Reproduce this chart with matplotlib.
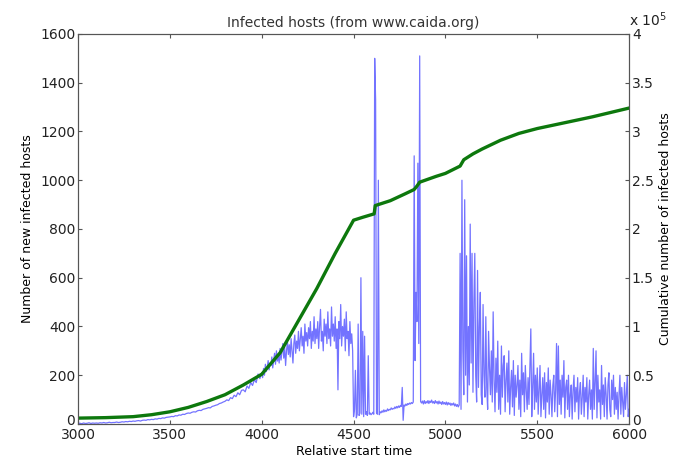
import matplotlib
matplotlib.use("Agg")
import matplotlib.pyplot as plt
import matplotlib.transforms as mtransforms
import numpy as np
from matplotlib.ticker import FuncFormatter

plt.rcParams['font.family'] = ['DejaVu Sans']

# new infected hosts: every 10 units up to 4000, then every 5 units up to 6000
t_new = np.concatenate([np.arange(3000, 4000, 10), np.arange(4000, 6001, 5)])
new_hosts = [
    2, 3, 1, 4, 2, 3, 5, 2, 4, 3,
    4, 3, 5, 4, 6, 4, 5, 7, 5, 6,
    6, 8, 6, 7, 9, 8, 10, 9, 11, 10,
    12, 11, 13, 14, 12, 15, 16, 15, 18, 17,
    19, 18, 21, 20, 23, 22, 25, 24, 27, 28,
    29, 31, 30, 34, 33, 37, 36, 40, 39, 43,
    45, 44, 48, 50, 49, 54, 56, 55, 60, 62,
    64, 67, 66, 72, 74, 77, 79, 84, 86, 90,
    93, 99, 96, 108, 104, 118, 112, 128, 120, 138,
    140, 132, 156, 146, 170, 158, 182, 170, 205, 186,
    # 4000, step 5
    210, 190, 228, 200, 245, 215, 232, 260, 222, 250,
    240, 275, 230, 262, 290, 245, 300, 258, 280, 250,
    310, 262, 295, 330, 270, 315, 240, 300, 340, 285,
    325, 275, 350, 300, 250, 330, 365, 290, 340, 310,
    380, 300, 350, 395, 320, 360, 290, 410, 340, 375,
    320, 395, 350, 420, 310, 380, 340, 440, 330, 390,
    350, 420, 310, 400, 470, 340, 380, 300, 430, 360,
    410, 330, 460, 350, 390, 320, 480, 360, 410, 340,
    440, 310, 390, 140, 420, 350, 490, 320, 400, 360,
    430, 300, 460, 350, 380, 280, 420, 330, 370, 300,
    # 4500
    30, 60, 220, 25, 40, 410, 35, 45, 600, 40,
    380, 30, 360, 40, 50, 35, 280, 40, 45, 38,
    42, 48, 40, 1500, 1330, 45, 40, 1000, 38, 50,
    46, 54, 48, 58, 50, 56, 52, 62, 55, 60,
    58, 66, 60, 64, 62, 70, 64, 72, 66, 74,
    68, 76, 72, 150, 15, 78, 74, 82, 76, 84,
    80, 86, 82, 88, 84, 90, 1100, 260, 540, 420,
    1070, 330, 1510, 92, 86, 94, 82, 96, 84, 92,
    86, 96, 84, 94, 88, 98, 86, 92, 84, 96,
    86, 92, 82, 94, 84, 90, 80, 92, 82, 88,
    # 5000
    80, 90, 78, 88, 80, 86, 76, 84, 78, 86,
    74, 82, 72, 80, 70, 78, 700, 60, 1000, 300,
    120, 920, 200, 690, 90, 400, 160, 820, 250, 700,
    130, 500, 700, 200, 90, 630, 150, 400, 540, 120,
    80, 490, 200, 110, 440, 150, 60, 380, 230, 120,
    300, 90, 460, 180, 50, 270, 130, 340, 60, 200,
    40, 320, 110, 240, 280, 50, 180, 250, 90, 300,
    40, 150, 220, 70, 260, 35, 200, 110, 160, 240,
    60, 180, 30, 290, 120, 210, 50, 240, 140, 60,
    190, 80, 230, 390, 30, 150, 290, 60, 200, 90,
    # 5500
    230, 40, 140, 240, 30, 120, 190, 60, 210, 25,
    170, 90, 230, 40, 180, 120, 30, 160, 200, 50,
    140, 330, 30, 320, 80, 180, 40, 200, 110, 260,
    25, 150, 180, 60, 200, 30, 120, 160, 20, 140,
    200, 50, 150, 90, 190, 20, 130, 170, 40, 110,
    200, 30, 150, 90, 190, 20, 120, 180, 60, 140,
    20, 310, 60, 170, 300, 25, 200, 90, 140, 20,
    240, 80, 160, 30, 190, 120, 20, 160, 210, 60,
    30, 180, 100, 200, 40, 150, 60, 130, 20, 120,
    200, 40, 150, 90, 30, 170, 60, 120, 200, 30,
    60,
]

# cumulative number of infected hosts
t_cum = [3000, 3150, 3300, 3400, 3500, 3600, 3700, 3800, 3900, 4000,
         4100, 4200, 4300, 4400, 4500, 4550, 4612, 4618, 4700, 4780,
         4830, 4845, 4860, 4950, 5000, 5080, 5100, 5150, 5200, 5300,
         5400, 5500, 5600, 5700, 5800, 5900, 6000]
cum_hosts = [6000, 6500, 7500, 9500, 12500, 17000, 23000, 30000, 40000, 51000,
             73000, 106000, 139000, 175000, 209000, 212000, 215500, 224000, 229000, 236000,
             240500, 244000, 248000, 254000, 257000, 264500, 271000, 277000, 282000, 291000,
             298000, 303000, 307000, 311000, 315000, 319500, 324000]

fig = plt.figure(figsize=(6.75, 4.59), dpi=100)
ax = fig.add_axes([0.1156, 0.0763, 0.8164, 0.8497])

ax.plot(t_new, new_hosts, color=(0, 0, 1), alpha=0.55, linewidth=0.9)
ax.set_xlim(3000, 6000)
ax.set_ylim(0, 1600)
ax.set_xticks([3000, 3500, 4000, 4500, 5000, 5500, 6000])
ax.set_yticks(range(0, 1601, 200))
ax.set_xlabel("Relative start time", fontsize=9)
ax.xaxis.set_label_coords(0.5, -0.053)
ax.set_ylabel("Number of new infected hosts", fontsize=9, labelpad=4)
ax.set_title("Infected hosts (from www.caida.org)", fontsize=10, pad=5, color='#333333')
ax.tick_params(direction='in', length=3, labelsize=10, top=True, colors='#555555',
               labelcolor='#222222', pad=2)
ax.tick_params(axis='x', pad=3)

ax2 = ax.twinx()
ax2.plot(t_cum, cum_hosts, color=(0.05, 0.47, 0.05), linewidth=2.4)
ax2.set_ylim(0, 4e5)
ax2.set_yticks(np.arange(0, 4.01e5, 0.5e5))
ax2.yaxis.set_major_formatter(FuncFormatter(lambda v, p: "%g" % (v / 1e5)))
ax2.set_ylabel("Cumulative number of infected hosts", fontsize=9, labelpad=4)
ax2.tick_params(direction='in', length=3, labelsize=10, colors='#555555',
                labelcolor='#222222', pad=2)
ax2.text(1.0, 1.012, r"x 10$^{5}$", transform=ax2.transAxes, fontsize=10,
         color='#222222', ha='left', va='bottom')

# lift the two "0" labels a little so they clear the x tick labels
lift = mtransforms.ScaledTranslation(0, 3 / 72, fig.dpi_scale_trans)
t0 = ax.yaxis.get_major_ticks()[0].label1
t0.set_transform(t0.get_transform() + lift)
t1 = ax2.yaxis.get_major_ticks()[0].label2
t1.set_transform(t1.get_transform() + lift)

for a in (ax, ax2):
    for s in a.spines.values():
        s.set_color('#555555')

fig.savefig("out.png", dpi=100)
